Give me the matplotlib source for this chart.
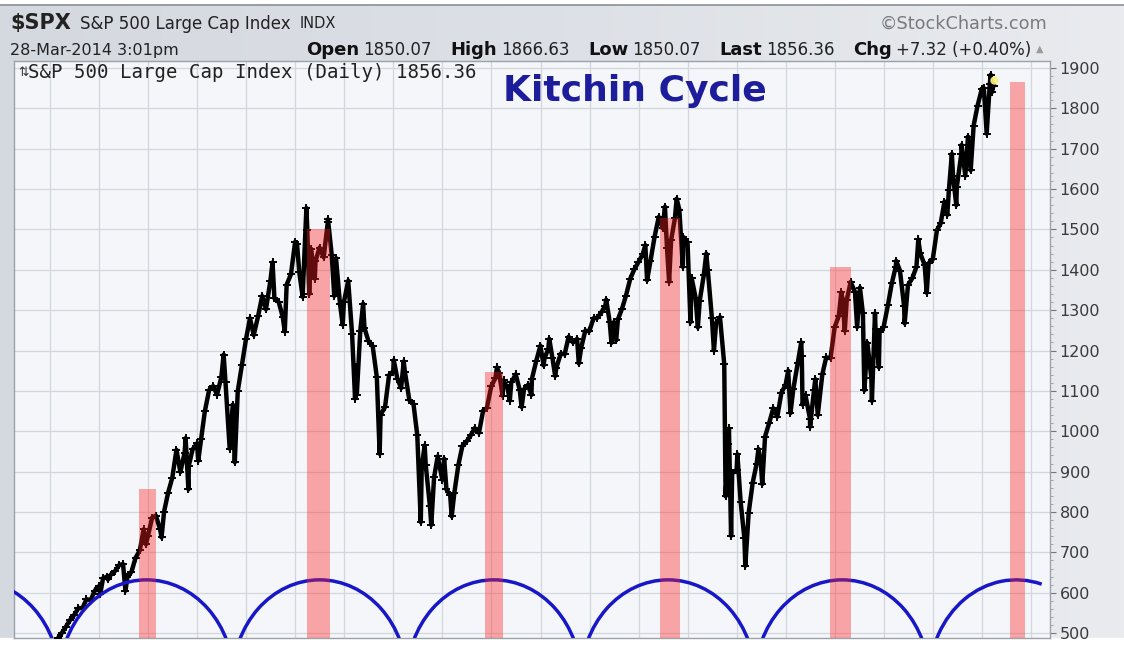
import matplotlib
matplotlib.use("Agg")
import matplotlib.pyplot as plt
from matplotlib.patches import Arc, Rectangle
from matplotlib.ticker import MultipleLocator, NullFormatter
from matplotlib.colors import LinearSegmentedColormap
import numpy as np
import pandas as pd

# ---------------- data ----------------
price_dates = [
    "1995-01-03", "1995-01-31", "1995-02-28", "1995-03-31", "1995-04-28", "1995-05-31",
    "1995-06-30", "1995-07-31", "1995-08-31", "1995-09-29", "1995-10-31", "1995-11-30",
    "1995-12-29", "1996-01-10", "1996-01-31", "1996-02-29", "1996-03-08", "1996-03-29",
    "1996-04-30", "1996-05-31", "1996-06-28", "1996-07-16", "1996-07-31", "1996-08-30",
    "1996-09-30", "1996-10-31", "1996-11-29", "1996-12-16", "1996-12-31", "1997-01-31",
    "1997-02-28", "1997-03-31", "1997-04-11", "1997-04-30", "1997-05-30", "1997-06-30",
    "1997-07-31", "1997-08-29", "1997-09-30", "1997-10-07", "1997-10-28", "1997-10-31",
    "1997-11-28", "1997-12-31", "1998-01-09", "1998-01-30", "1998-02-27", "1998-03-31",
    "1998-04-30", "1998-05-29", "1998-06-30", "1998-07-17", "1998-07-31", "1998-08-31",
    "1998-09-23", "1998-10-08", "1998-10-30", "1998-11-30", "1998-12-31", "1999-01-29",
    "1999-02-26", "1999-03-31", "1999-04-30", "1999-05-28", "1999-06-30", "1999-07-16",
    "1999-07-30", "1999-08-31", "1999-09-30", "1999-10-15", "1999-10-29", "1999-11-30",
    "1999-12-31", "2000-01-14", "2000-01-31", "2000-02-25", "2000-03-24", "2000-03-31",
    "2000-04-14", "2000-04-28", "2000-05-26", "2000-05-31", "2000-06-30", "2000-07-31",
    "2000-08-31", "2000-09-01", "2000-09-29", "2000-10-18", "2000-10-31", "2000-11-30",
    "2000-12-20", "2000-12-29", "2001-01-30", "2001-02-28", "2001-03-22", "2001-03-30",
    "2001-04-04", "2001-04-30", "2001-05-21", "2001-05-31", "2001-06-29", "2001-07-31",
    "2001-08-31", "2001-09-21", "2001-09-28", "2001-10-31", "2001-11-30", "2001-12-31",
    "2002-01-04", "2002-01-31", "2002-02-28", "2002-03-19", "2002-03-28", "2002-04-30",
    "2002-05-31", "2002-06-28", "2002-07-24", "2002-07-31", "2002-08-22", "2002-08-30",
    "2002-09-30", "2002-10-10", "2002-10-31", "2002-11-27", "2002-12-31", "2003-01-14",
    "2003-01-31", "2003-02-28", "2003-03-11", "2003-03-31", "2003-04-30", "2003-05-30",
    "2003-06-30", "2003-07-31", "2003-08-29", "2003-09-30", "2003-10-31", "2003-11-28",
    "2003-12-31", "2004-01-30", "2004-02-11", "2004-02-27", "2004-03-24", "2004-03-31",
    "2004-04-30", "2004-05-17", "2004-05-28", "2004-06-30", "2004-07-30", "2004-08-13",
    "2004-08-31", "2004-09-30", "2004-10-25", "2004-10-29", "2004-11-30", "2004-12-31",
    "2005-01-24", "2005-01-31", "2005-02-28", "2005-03-07", "2005-03-31", "2005-04-20",
    "2005-04-29", "2005-05-31", "2005-06-30", "2005-07-29", "2005-08-31", "2005-09-30",
    "2005-10-13", "2005-10-31", "2005-11-30", "2005-12-30", "2006-01-31", "2006-02-28",
    "2006-03-31", "2006-04-28", "2006-05-05", "2006-05-31", "2006-06-13", "2006-06-30",
    "2006-07-18", "2006-07-31", "2006-08-31", "2006-09-29", "2006-10-31", "2006-11-30",
    "2006-12-29", "2007-01-31", "2007-02-20", "2007-03-05", "2007-03-30", "2007-04-30",
    "2007-05-31", "2007-06-29", "2007-07-16", "2007-07-31", "2007-08-16", "2007-08-31",
    "2007-09-28", "2007-10-11", "2007-10-31", "2007-11-26", "2007-11-30", "2007-12-31",
    "2008-01-22", "2008-01-31", "2008-02-29", "2008-03-17", "2008-03-31", "2008-04-30",
    "2008-05-19", "2008-05-30", "2008-06-30", "2008-07-15", "2008-07-31", "2008-08-29",
    "2008-09-30", "2008-10-10", "2008-10-31", "2008-11-04", "2008-11-20", "2008-11-28",
    "2008-12-31", "2009-01-06", "2009-01-30", "2009-02-27", "2009-03-06", "2009-03-31",
    "2009-04-30", "2009-05-29", "2009-06-12", "2009-06-30", "2009-07-10", "2009-07-31",
    "2009-08-31", "2009-09-30", "2009-10-30", "2009-11-30", "2009-12-31", "2010-01-19",
    "2010-02-05", "2010-02-26", "2010-03-31", "2010-04-26", "2010-04-30", "2010-05-06",
    "2010-05-28", "2010-06-30", "2010-07-01", "2010-07-30", "2010-08-09", "2010-08-27",
    "2010-09-30", "2010-10-29", "2010-11-30", "2010-12-31", "2011-01-31", "2011-02-18",
    "2011-02-28", "2011-03-16", "2011-03-31", "2011-04-29", "2011-05-31", "2011-06-16",
    "2011-06-30", "2011-07-07", "2011-07-29", "2011-08-09", "2011-08-31", "2011-09-30",
    "2011-10-04", "2011-10-27", "2011-10-31", "2011-11-25", "2011-11-30", "2011-12-30",
    "2012-01-31", "2012-02-29", "2012-03-30", "2012-04-02", "2012-04-30", "2012-05-31",
    "2012-06-04", "2012-06-29", "2012-07-31", "2012-08-31", "2012-09-14", "2012-09-28",
    "2012-10-31", "2012-11-16", "2012-11-30", "2012-12-31", "2013-01-31", "2013-02-28",
    "2013-03-28", "2013-04-18", "2013-04-30", "2013-05-22", "2013-05-31", "2013-06-24",
    "2013-06-28", "2013-07-31", "2013-08-02", "2013-08-30", "2013-09-19", "2013-09-30",
    "2013-10-09", "2013-10-31", "2013-11-29", "2013-12-31", "2014-01-15", "2014-02-05",
    "2014-02-28", "2014-03-07", "2014-03-14", "2014-03-28",
]
price_values = [
    459, 470, 487, 501, 515, 533,
    545, 562, 562, 584, 582, 605,
    616, 598, 636, 640, 633, 645,
    654, 669, 671, 605, 640, 652,
    687, 705, 757, 720, 741, 786,
    791, 757, 737, 801, 848, 885,
    954, 899, 947, 983, 856, 915,
    955, 970, 927, 980, 1049, 1102,
    1112, 1091, 1134, 1190, 1121, 957,
    1066, 923, 1099, 1164, 1229, 1280,
    1238, 1286, 1335, 1302, 1373, 1418,
    1329, 1320, 1283, 1247, 1363, 1389,
    1469, 1465, 1394, 1333, 1553, 1499,
    1340, 1452, 1378, 1421, 1455, 1431,
    1518, 1525, 1437, 1335, 1429, 1315,
    1264, 1320, 1373, 1240, 1081, 1160,
    1091, 1249, 1316, 1256, 1224, 1211,
    1134, 944, 1041, 1060, 1139, 1148,
    1176, 1130, 1107, 1173, 1147, 1077,
    1067, 990, 775, 912, 965, 916,
    815, 768, 886, 938, 880, 932,
    856, 841, 789, 848, 917, 964,
    975, 990, 1008, 996, 1051, 1058,
    1112, 1131, 1158, 1145, 1088, 1126,
    1107, 1076, 1121, 1141, 1102, 1060,
    1104, 1115, 1090, 1130, 1174, 1212,
    1163, 1181, 1204, 1229, 1181, 1137,
    1157, 1192, 1191, 1234, 1220, 1229,
    1168, 1207, 1249, 1248, 1280, 1281,
    1295, 1311, 1326, 1270, 1219, 1270,
    1225, 1277, 1304, 1336, 1378, 1401,
    1418, 1438, 1461, 1374, 1421, 1482,
    1531, 1503, 1556, 1455, 1370, 1474,
    1527, 1576, 1549, 1407, 1481, 1468,
    1270, 1379, 1331, 1257, 1323, 1386,
    1440, 1400, 1280, 1200, 1267, 1283,
    1166, 839, 969, 1007, 741, 896,
    903, 943, 826, 735, 667, 798,
    873, 919, 956, 919, 869, 987,
    1021, 1057, 1036, 1096, 1115, 1150,
    1045, 1104, 1169, 1220, 1187, 1066,
    1089, 1031, 1011, 1102, 1129, 1040,
    1141, 1183, 1181, 1258, 1286, 1344,
    1327, 1249, 1326, 1370, 1345, 1258,
    1321, 1356, 1292, 1101, 1219, 1131,
    1075, 1292, 1253, 1158, 1247, 1258,
    1312, 1366, 1408, 1422, 1398, 1310,
    1267, 1362, 1379, 1407, 1475, 1441,
    1412, 1343, 1416, 1426, 1498, 1515,
    1569, 1536, 1598, 1687, 1631, 1560,
    1606, 1686, 1709, 1633, 1730, 1682,
    1646, 1757, 1806, 1848, 1850, 1737,
    1859, 1883, 1839, 1856,
]

bar_dates = ["1996-12-28", "2000-06-21", "2004-01-19", "2007-08-22", "2011-02-14", "2014-09-20"]
bar_tops = [856, 1502, 1146, 1529, 1408, 1865]

cycle_peak_dates = ["1993-06-03", "1996-12-20", "2000-07-01", "2004-01-19",
                    "2007-08-08", "2011-02-25", "2014-09-13"]
cycle_peak_value = 632

y_ticks = list(range(500, 2000, 100))
year_grid = list(range(1995, 2016))

quote_labels = ["Open", "High", "Low", "Last", "Chg"]
quote_values = ["1850.07", "1866.63", "1850.07", "1856.36", "+7.32 (+0.40%)"]

# ---------------- helpers / style ----------------
W, H = 1124, 645


def frac_year(s):
    ts = pd.Timestamp(s)
    days = 366 if ts.is_leap_year else 365
    return ts.year + (ts.dayofyear - 1) / days


px_per_year = 49.05
bar_widths_px = [17, 23, 18, 20, 21, 15]
cycle_half_width = 1.775      # years
cycle_radius = 245            # price units
last_arc_param_start = 73     # parametric angle (deg) where the last arc begins

x_price = np.array([frac_year(d) for d in price_dates])
y_price = np.array(price_values, dtype=float)
x_bars = [frac_year(d) for d in bar_dates]
x_cycle = [frac_year(d) for d in cycle_peak_dates]

fig = plt.figure(figsize=(W / 100, H / 100), dpi=100)
fig.patch.set_facecolor("#dcdfe5")

# background gradient for the frame
bg = fig.add_axes([0, 0, 1, 1], zorder=-10)
grad = np.linspace(0, 1, 256)[None, :]
cmap = LinearSegmentedColormap.from_list("bg", ["#d4d8df", "#dde0e6", "#e9ebef"])
bg.imshow(grad, aspect="auto", cmap=cmap, extent=[0, 1, 0, 1])
bg.set_xlim(0, 1)
bg.set_ylim(0, 1)
bg.axis("off")
bg.add_patch(Rectangle((0, 1 - 4 / H), 1, 4 / H, color="white", zorder=2))
bg.plot([0, 1], [1 - 5 / H, 1 - 5 / H], color="#8a8f96", lw=1.2, zorder=3)
bg.add_patch(Rectangle((0, 0), 1, 7 / H, color="white", zorder=2))

# main axes
ax_left, ax_right, ax_top, ax_bottom = 14, 1050, 61, 638
ax = fig.add_axes([ax_left / W, 1 - ax_bottom / H, (ax_right - ax_left) / W,
                   (ax_bottom - ax_top) / H])
ax.set_facecolor("#f4f6f9")
ax.set_xlim(1994.266, 2015.387)
ax.set_ylim(488, 1917)

ax.set_yticks(y_ticks)
ax.set_yticklabels([str(v) for v in y_ticks])
ax.yaxis.tick_right()
ax.yaxis.set_minor_locator(MultipleLocator(20))
ax.tick_params(axis="y", which="major", length=4, width=0.8, color="#777777",
               labelsize=11.5, labelcolor="#3a3a3a", pad=3)
ax.tick_params(axis="y", which="minor", length=2, width=0.6, color="#999999")
ax.set_xticks(year_grid)
ax.xaxis.set_major_formatter(NullFormatter())
ax.tick_params(axis="x", length=0)
ax.grid(True, which="major", color="#d3d7dd", lw=0.9)
ax.set_axisbelow(True)
for side in ["left", "right", "top", "bottom"]:
    ax.spines[side].set_color("#9da2a9")
    ax.spines[side].set_linewidth(1.0)

# price
ax.plot(x_price, y_price, color="black", lw=3.2, zorder=3, solid_joinstyle="round")
ax.plot(x_price, y_price, ls="none", marker="+", ms=5.5, mew=1.4, color="black", zorder=3)
ax.plot([x_price[-1]], [y_price[-1] + 14], ls="none", marker="o", ms=5,
        color="#fff27a", alpha=0.9, zorder=4)

# Kitchin cycle arcs (the last one stops shortly after its crest)
phi = np.radians(last_arc_param_start)
last_theta1 = np.degrees(np.arctan2(cycle_radius * np.sin(phi), cycle_half_width * np.cos(phi)))
for i, cx in enumerate(x_cycle):
    t1 = last_theta1 if i == len(x_cycle) - 1 else 0
    arc = Arc((cx, cycle_peak_value - cycle_radius), 2 * cycle_half_width, 2 * cycle_radius,
              theta1=t1, theta2=180, color="#1717c8", lw=2.5, zorder=4)
    ax.add_patch(arc)

# red bars
for xb, top, wpx in zip(x_bars, bar_tops, bar_widths_px):
    ax.bar(xb, top - 488, bottom=488, width=wpx / px_per_year, color="#ff2020",
           alpha=0.38, lw=0, zorder=5)

# legend / title inside the panel
aw, ah = ax_right - ax_left, ax_bottom - ax_top
ax.text(4 / aw, 1 - (73 - ax_top) / ah, "⇅",
        transform=ax.transAxes, fontsize=9, va="center", ha="left", color="#333333",
        family="DejaVu Sans")
ax.text(14 / aw, 1 - (73 - ax_top) / ah,
        "S&P 500 Large Cap Index (Daily) 1856.36", transform=ax.transAxes,
        fontsize=13.7, va="center", ha="left", color="#222222", family="DejaVu Sans Mono")
ax.text((503 - ax_left) / aw, 1 - (91 - ax_top) / ah,
        "Kitchin Cycle", transform=ax.transAxes, fontsize=26, fontweight="bold",
        va="center", ha="left", color="#1d1d9c", family="DejaVu Sans")


# header texts
def ftext(x, y, s, **kw):
    return fig.text(x / W, 1 - y / H, s, va="center", ha="left", **kw)


ftext(10, 23, "$SPX", fontsize=15, fontweight="bold", color="#222222")
ftext(80, 24, "S&P 500 Large Cap Index", fontsize=12, color="#222222")
ftext(300, 24, "INDX", fontsize=10.5, color="#222222")
ftext(880, 24, "©StockCharts.com", fontsize=12.7, color="#7a7a7a")

y2 = 50
ftext(10, y2, "28-Mar-2014 3:01pm", fontsize=11.5, color="#222222")

# quote line laid out as flowing text between x=306 and x=1031
renderer = fig.canvas.get_renderer()
items = []
for lab, val in zip(quote_labels, quote_values):
    items.append(ftext(0, y2, lab, fontsize=13, fontweight="bold", color="#111111"))
    items.append(ftext(0, y2, val, fontsize=12, color="#222222"))
widths = [t.get_window_extent(renderer).width for t in items]
start, end = 306, 1031
small_gap = 4
n_big = len(quote_labels) - 1
big_gap = (end - start - sum(widths) - small_gap * len(quote_labels)) / n_big
x = start
for i, (t, w) in enumerate(zip(items, widths)):
    t.set_x(x / W)
    x += w + (small_gap if i % 2 == 0 else big_gap)
ftext(1036, y2 - 1, "▲", fontsize=7, color="#9a9a9a")

fig.savefig("out.png", dpi=100, facecolor=fig.get_facecolor())
